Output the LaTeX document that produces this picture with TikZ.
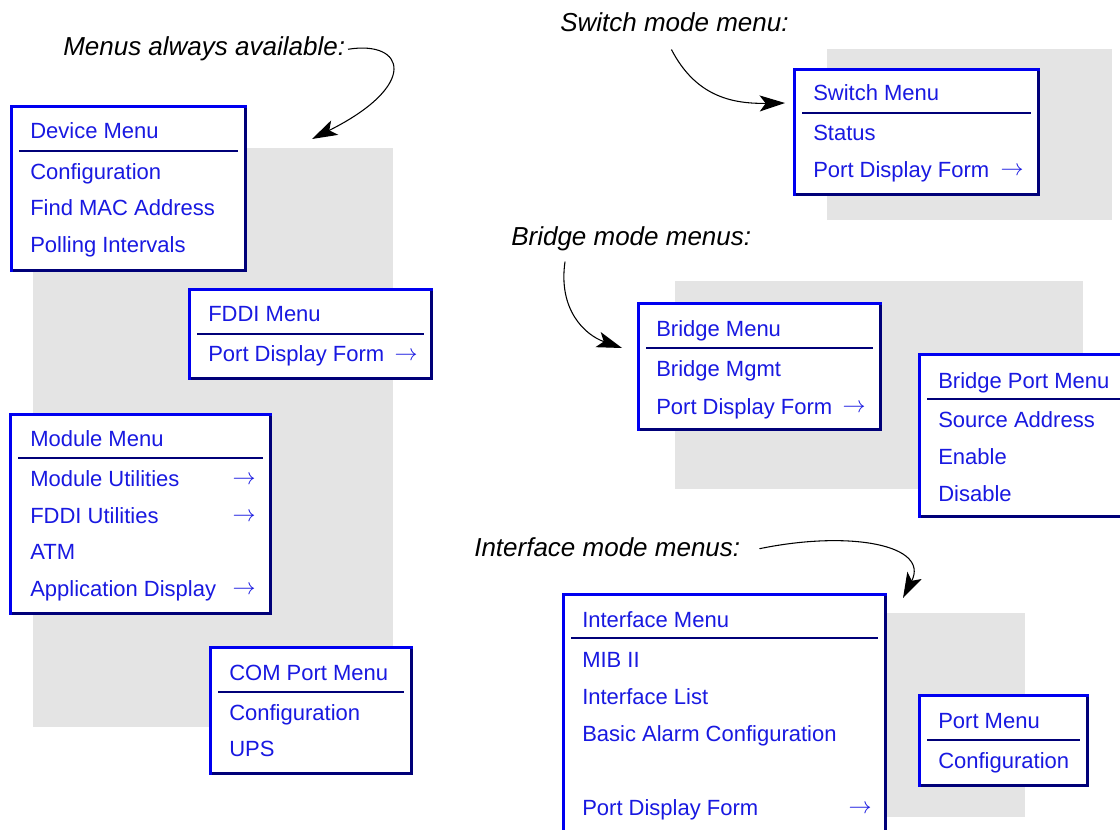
\documentclass[tikz,border=0pt]{standalone}
\usepackage{fontspec}
\setmainfont{Liberation Sans}
\usetikzlibrary{arrows.meta,fit,calc}

\definecolor{panel}{RGB}{228,228,228}
\definecolor{menublue}{RGB}{0,0,240}
\definecolor{menunavy}{RGB}{0,0,120}
\definecolor{menuink}{RGB}{25,25,225}

\tikzset{
  panelbg/.style={fill=panel, draw=none},
  frame hi/.style={draw=menublue, line width=2.5pt, line cap=rect},
  frame lo/.style={draw=menunavy, line width=2.5pt, line cap=rect},
  menurule/.style={draw=menunavy, line width=2.1pt},
  item/.style={anchor=base west, inner sep=0pt, text=menuink,
    font=\fontsize{16.5}{18}\selectfont},
  more/.style={anchor=base east, inner sep=0pt, text=menuink,
    font=\fontsize{16.5}{18}\selectfont},
  caption/.style={anchor=base west, inner sep=0pt,
    font=\fontsize{19.5}{22}\selectfont\itshape},
  pointer/.style={-{Stealth[length=19pt,width=12pt,inset=4.5pt]}, line width=0.8pt}
}

% #1 name, #2 left, #3 top, #4 right, #5 bottom (outer edges), #6 y of the title rule
\newcommand\menubox[6]{%
  \node[fit={({#2+1.5},{#3+1.5}) ({#4-1.5},{#5-1.5})}, inner sep=0pt, fill=white] (#1) {};
  \draw[frame lo] (#1.north east) -- (#1.south east) -- (#1.south west);
  \draw[frame hi] (#1.south west) -- (#1.north west) -- (#1.north east);
  \draw[menurule] ({#2+9},#6) -- ({#4-9},#6);
}
% #1 name, #2 x, #3 baseline, #4 text
\newcommand\menuentry[4]{\node[item] (#1) at (#2,#3) {#4};}
% #1 name, #2 right x, #3 baseline
\newcommand\submark[3]{\node[more] (#1) at (#2,{#3-2}) {$\rightarrow$};}

\begin{document}
\begin{tikzpicture}[x=0.75pt,y=-0.75pt]
\useasboundingbox (0,0) rectangle (1120,830);
\clip (0,0) rectangle (1120,830);

% grey backdrops
\fill[panelbg] (33,148) rectangle (393,727);
\fill[panelbg] (827,49) rectangle (1112,220);
\fill[panelbg] (675,281) rectangle (1083,489);
\fill[panelbg] (887,613) rectangle (1025,817);

% left column: menus always available
\menubox{dev}{10}{105}{247}{272}{151}
\menuentry{dev-t}{30}{139}{Device Menu}
\menuentry{dev-1}{30}{180}{Configuration}
\menuentry{dev-2}{30}{216}{Find MAC Address}
\menuentry{dev-3}{30}{253}{Polling Intervals}

\menubox{fddi}{188}{288}{433}{380}{334}
\menuentry{fddi-t}{208}{322}{FDDI Menu}
\menuentry{fddi-1}{208}{362}{Port Display Form}
\submark{fddi-a}{418}{362}

\menubox{mod}{9}{413}{272}{615}{458}
\menuentry{mod-t}{30}{446}{Module Menu}
\menuentry{mod-1}{30}{486}{Module Utilities}
\menuentry{mod-2}{30}{523}{FDDI Utilities}
\menuentry{mod-3}{30}{559}{ATM}
\menuentry{mod-4}{30}{596}{Application Display}
\submark{mod-a1}{256}{486}
\submark{mod-a2}{256}{523}
\submark{mod-a4}{256}{596}

\menubox{com}{209}{646}{413}{775}{692}
\menuentry{com-t}{229}{680}{COM Port Menu}
\menuentry{com-1}{229}{720}{Configuration}
\menuentry{com-2}{229}{756}{UPS}

% switch mode
\menubox{sw}{793}{68}{1040}{196}{113}
\menuentry{sw-t}{813}{101}{Switch Menu}
\menuentry{sw-1}{813}{141}{Status}
\menuentry{sw-2}{813}{178}{Port Display Form}
\submark{sw-a}{1024}{178}

% bridge mode
\menubox{br}{637}{302}{882}{431}{348}
\menuentry{br-t}{656}{336}{Bridge Menu}
\menuentry{br-1}{656}{376}{Bridge Mgmt}
\menuentry{br-2}{656}{414}{Port Display Form}
\submark{br-a}{866}{414}

\menubox{bp}{918}{353}{1135}{518}{399}
\menuentry{bp-t}{938}{388}{Bridge Port Menu}
\menuentry{bp-1}{938}{427}{Source Address}
\menuentry{bp-2}{938}{464}{Enable}
\menuentry{bp-3}{938}{501}{Disable}

% interface mode
\menubox{if}{562}{593}{887}{845}{638}
\menuentry{if-t}{582}{627}{Interface Menu}
\menuentry{if-1}{582}{667}{MIB II}
\menuentry{if-2}{582}{704}{Interface List}
\menuentry{if-3}{582}{741}{Basic Alarm Configuration}
\menuentry{if-4}{582}{815}{Port Display Form}
\submark{if-a}{872}{815}

\menubox{pm}{918}{694}{1089}{787}{740}
\menuentry{pm-t}{938}{728}{Port Menu}
\menuentry{pm-1}{938}{768}{Configuration}

% captions
\node[caption] (cap1) at (63,56) {Menus always available:};
\node[caption] (cap2) at (560,32) {Switch mode menu:};
\node[caption] (cap3) at (511,246) {Bridge mode menus:};
\node[caption] (cap4) at (474,556) {Interface mode menus:};

% pointer tips
\coordinate (tip1) at (312,139);
\coordinate (tip2) at (785,103);
\coordinate (tip3) at (622,348);
\coordinate (tip4) at (903,598);

\draw[pointer] ([xshift=2pt]cap1.east) .. controls (405,40) and (420,85) .. (tip1);
\draw[pointer] ($(cap2.south)+(-3,17)$) .. controls (695,95) and (730,104) .. (tip2);
\draw[pointer] ($(cap3.south west)+(54,10)$) .. controls (558,310) and (585,335) .. (tip3);
\draw[pointer] ($(cap4.east)+(19,2)$) .. controls (850,530) and (930,545) .. (tip4);
\end{tikzpicture}
\end{document}
